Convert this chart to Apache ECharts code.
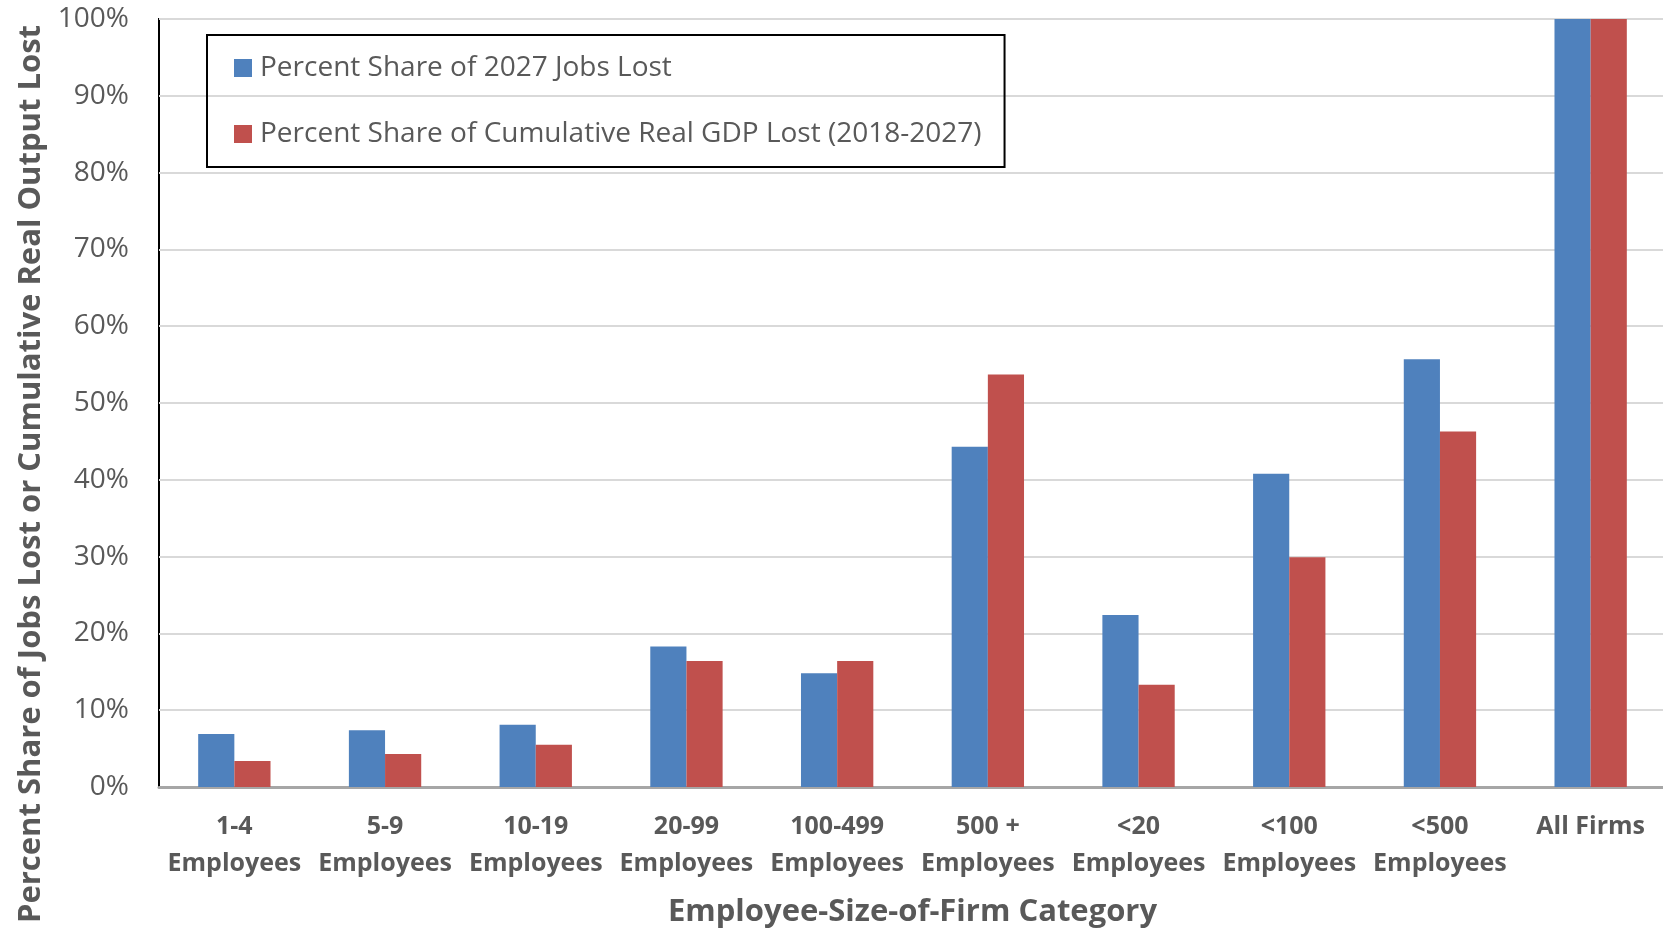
<!DOCTYPE html>
<html>
<head>
<meta charset="utf-8">
<script src="https://cdn.jsdelivr.net/npm/echarts@6/dist/echarts.min.js"></script>
<style>
html,body{margin:0;padding:0;background:#fff;}
#chart{width:1663px;height:931px;}
</style>
</head>
<body>
<div id="chart"></div>
<script>
const categories = ['1-4\nEmployees','5-9\nEmployees','10-19\nEmployees','20-99\nEmployees','100-499\nEmployees','500 +\nEmployees','<20\nEmployees','<100\nEmployees','<500\nEmployees','All Firms'];
const jobsLost = [6.9, 7.4, 8.1, 18.3, 14.8, 44.3, 22.4, 40.8, 55.7, 100];
const gdpLost = [3.4, 4.3, 5.5, 16.4, 16.4, 53.7, 13.3, 29.9, 46.3, 100];
const seriesNames = ['Percent Share of 2027 Jobs Lost', 'Percent Share of Cumulative Real GDP Lost (2018-2027)'];
const yTicks = [0,10,20,30,40,50,60,70,80,90,100];
const yAxisName = 'Percent Share of Jobs Lost or Cumulative Real Output Lost';
const xAxisName = 'Employee-Size-of-Firm Category';

const FONT = 'Open Sans';
const GREY = '#595959';
const chart = echarts.init(document.getElementById('chart'), null, {renderer:'canvas'});
chart.setOption({
  animation: false,
  backgroundColor: '#fff',
  textStyle: {fontFamily: FONT},
  grid: {left: 159, top: 19, right: -3, bottom: 144, show: true, borderColor: '#000', borderWidth: 2,
         backgroundColor: 'transparent', containLabel: false, outerBoundsMode: 'none'},
  legend: {
    orient: 'vertical', left: 207, top: 35,
    data: seriesNames,
    icon: 'rect', itemWidth: 18, itemHeight: 18, itemGap: 34,
    padding: [17, 23, 17, 27],
    borderColor: '#000', borderWidth: 2,
    textStyle: {fontFamily: FONT, fontSize: 28, color: GREY, lineHeight: 32, padding: [0, 0, 0, 3]}
  },
  xAxis: {
    type: 'category', data: categories,
    name: xAxisName, nameLocation: 'middle', nameGap: 110,
    nameTextStyle: {fontFamily: FONT, fontSize: 31, fontWeight: 'bold', color: GREY},
    axisLine: {show: true, lineStyle: {color: '#A6A6A6', width: 3}},
    axisTick: {show: false},
    axisLabel: {fontFamily: FONT, fontSize: 25, fontWeight: 'bold', color: GREY, lineHeight: 37, margin: 21, interval: 0}
  },
  yAxis: {
    type: 'value', min: 0, max: 100, interval: 10,
    name: yAxisName, nameLocation: 'middle', nameGap: 112, nameRotate: 90,
    nameTextStyle: {fontFamily: FONT, fontSize: 31, fontWeight: 'bold', color: GREY, padding: [0, 142, 0, 0]},
    axisLine: {show: false}, axisTick: {show: false},
    axisLabel: {fontFamily: FONT, fontSize: 28, color: GREY, margin: 30,
      formatter: v => yTicks.indexOf(v) >= 0 ? v + '%' : ''},
    splitLine: {show: true, lineStyle: {color: '#D9D9D9', width: 2}}
  },
  series: [
    {name: seriesNames[0], type: 'bar', data: jobsLost, barGap: '0%', barCategoryGap: '52%',
     itemStyle: {color: '#4F81BD'}},
    {name: seriesNames[1], type: 'bar', data: gdpLost, barGap: '0%', barCategoryGap: '52%',
     itemStyle: {color: '#C0504D'}}
  ]
});
</script>
</body>
</html>
